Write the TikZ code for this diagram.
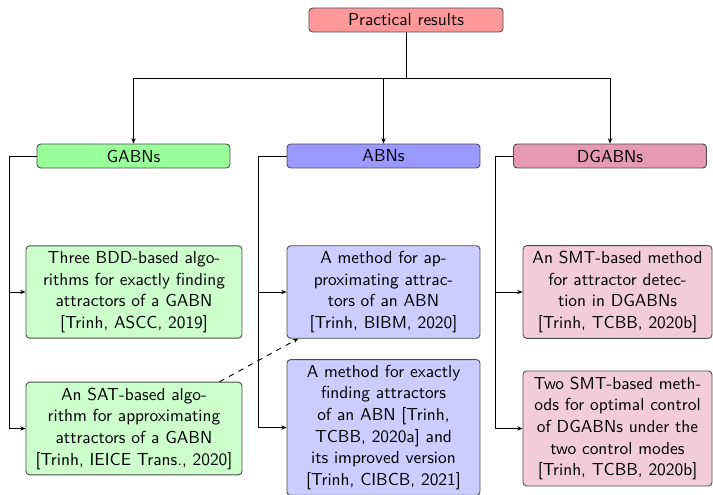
\documentclass[tikz,border=0pt]{standalone}
\usetikzlibrary{arrows.meta}
\begin{document}
\begin{tikzpicture}[x=0.5556pt, y=-0.5556pt,
  font=\sffamily\fontsize{9.65}{12.05}\selectfont,
  box/.style={draw=black!70, line width=0.5pt, rounded corners=2pt,
    align=center, inner sep=3pt},
  head/.style={box, minimum width=107.2pt, minimum height=13.3pt, inner sep=0pt},
  conn/.style={line width=0.5pt, -{Stealth[length=3pt,width=2.4pt]}},
  gbox/.style={box, fill=green!20, minimum width=120pt},
  abox/.style={box, fill=blue!20, minimum width=107.2pt},
  dbox/.style={box, fill=purple!20, minimum width=105pt},
]
\useasboundingbox (0,0) rectangle (713,494);

% root and the three model families
\node[head, fill=red!40, minimum width=107.8pt] (root) at (406,20) {Practical results};
\node[head, fill=green!40]  (gabns)  at (133.5,156) {GABNs};
\node[head, fill=blue!40]   (abns)   at (383.5,156) {ABNs};
\node[head, fill=purple!40] (dgabns) at (610,156)   {DGABNs};

% results per family
\node[gbox, minimum height=51.1pt] (g1) at (134,292)
  {Three BDD-based algo-\\rithms for exactly finding\\attractors of a GABN\\{[Trinh, ASCC, 2019]}};
\node[gbox, minimum height=51.1pt] (g2) at (134,428.5)
  {An SAT-based algo-\\rithm for approximating\\attractors of a GABN\\{[Trinh, IEICE Trans., 2020]}};

\node[abox, minimum height=51.1pt] (a1) at (383.5,292)
  {A method for ap-\\proximating attrac-\\tors of an ABN\\{[Trinh, BIBM, 2020]}};
\node[abox, minimum height=75pt] (a2) at (383.5,427.5)
  {A method for exactly\\finding attractors\\of an ABN [Trinh,\\TCBB, 2020a] and\\its improved version\\{[Trinh, CIBCB, 2021]}};

\node[dbox, minimum height=51.1pt] (d1) at (617.5,292)
  {An SMT-based method\\for attractor detec-\\tion in DGABNs\\{[Trinh, TCBB, 2020b]}};
\node[dbox, minimum height=63.9pt] (d2) at (617.5,428.5)
  {Two SMT-based meth-\\ods for optimal control\\of DGABNs under the\\two control modes\\{[Trinh, TCBB, 2020b]}};

% tree edges
\draw[conn] (root.south) -- ++(0,46) -| (gabns.north);
\draw[conn] (root.south) -- ++(0,46) -| (abns.north);
\draw[conn] (root.south) -- ++(0,46) -| (dgabns.north);

\draw[conn] (gabns.west) -- ++(-27,0) |- (g1.west);
\draw[conn] (gabns.west) -- ++(-27,0) |- (g2.west);
\draw[conn] (abns.west) -- ++(-28,0) |- (a1.west);
\draw[conn] (abns.west) -- ++(-28,0) |- (a2.west);
\draw[conn] (dgabns.west) -- ++(-18,0) |- (d1.west);
\draw[conn] (dgabns.west) -- ++(-18,0) |- (d2.west);

% cross link
\draw[conn, dashed] (g2) -- (a1);
\end{tikzpicture}
\end{document}
